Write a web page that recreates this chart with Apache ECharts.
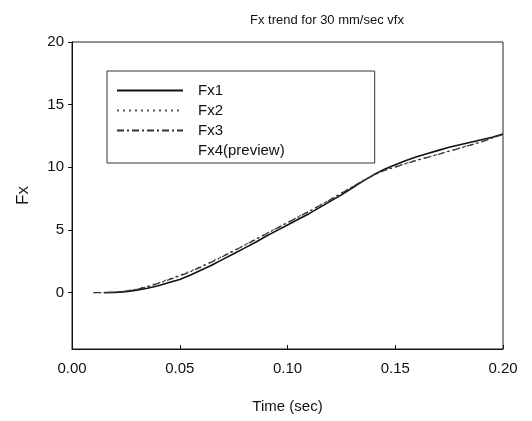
<!DOCTYPE html>
<html>
<head>
<meta charset="utf-8">
<script src="https://cdn.jsdelivr.net/npm/echarts@6/dist/echarts.min.js"></script>
<style>
  html, body { margin: 0; padding: 0; background: #fff; }
  #chart { width: 532px; height: 421px; }
</style>
</head>
<body>
<div id="chart"></div>
<script>
// time samples (sec)
var times = [0.010, 0.015, 0.020, 0.025, 0.030, 0.035, 0.040, 0.045, 0.050, 0.055,
             0.060, 0.065, 0.070, 0.075, 0.080, 0.085, 0.090, 0.095, 0.100, 0.105,
             0.110, 0.115, 0.120, 0.125, 0.130, 0.135, 0.140, 0.145, 0.150, 0.155,
             0.160, 0.165, 0.170, 0.175, 0.180, 0.185, 0.190, 0.195, 0.200];

var fx1 = [0.00, 0.00, 0.02, 0.08, 0.20, 0.35, 0.55, 0.80, 1.05, 1.40,
           1.80, 2.20, 2.65, 3.10, 3.55, 4.00, 4.50, 4.95, 5.40, 5.85,
           6.30, 6.80, 7.30, 7.80, 8.35, 8.90, 9.40, 9.85, 10.20, 10.55,
           10.85, 11.10, 11.35, 11.60, 11.80, 12.00, 12.20, 12.40, 12.65];

var fx2 = [0.00, 0.00, 0.03, 0.12, 0.28, 0.50, 0.78, 1.08, 1.38, 1.72,
           2.10, 2.50, 2.92, 3.35, 3.80, 4.25, 4.70, 5.15, 5.60, 6.05,
           6.50, 6.98, 7.45, 7.95, 8.45, 8.95, 9.40, 9.78, 10.05, 10.32,
           10.58, 10.82, 11.05, 11.30, 11.55, 11.80, 12.05, 12.35, 12.65];

var fx3 = [0.00, 0.00, 0.03, 0.11, 0.26, 0.47, 0.74, 1.03, 1.33, 1.67,
           2.05, 2.45, 2.88, 3.32, 3.77, 4.22, 4.68, 5.13, 5.58, 6.03,
           6.48, 6.95, 7.43, 7.92, 8.42, 8.92, 9.38, 9.75, 10.02, 10.30,
           10.55, 10.80, 11.03, 11.28, 11.52, 11.78, 12.03, 12.33, 12.62];

var xTicks = [0.00, 0.05, 0.10, 0.15, 0.20];
var yTicks = [0, 5, 10, 15, 20];

function pairs(ys, from) {
  var out = [];
  for (var i = from; i < times.length; i++) out.push([times[i], ys[i]]);
  return out;
}

var font = '"Liberation Sans", Arial, sans-serif';
var chart = echarts.init(document.getElementById('chart'));

var option = {
  backgroundColor: '#ffffff',
  animation: false,
  title: {
    text: 'Fx trend for 30 mm/sec vfx',
    left: 322, top: 9, textAlign: 'center',
    textStyle: { fontFamily: font, fontSize: 13, fontWeight: 'normal', color: '#111' }
  },
  grid: { left: 72, top: 42, right: 29, bottom: 72, show: true, borderColor: '#222', borderWidth: 1 },
  legend: {
    orient: 'vertical', left: 107, top: 71,
    padding: [12, 90, 5, 9],
    itemWidth: 66, itemHeight: 14, itemGap: 5,
    borderColor: '#333', borderWidth: 1,
    itemStyle: { opacity: 0 },
    textStyle: { fontFamily: font, fontSize: 15, color: '#111', padding: [0, 0, 0, 10] },
    data: [
      { name: 'Fx1' },
      { name: 'Fx2' },
      { name: 'Fx3' },
      { name: 'Fx4(preview)', lineStyle: { opacity: 0 } }
    ]
  },
  xAxis: {
    type: 'value', min: 0, max: 0.2, interval: 0.05,
    name: 'Time (sec)', nameLocation: 'middle', nameGap: 50,
    nameTextStyle: { fontFamily: font, fontSize: 15, color: '#111' },
    axisLine: { show: true, onZero: false, lineStyle: { color: '#111' } },
    axisTick: { show: true, inside: true, length: 4, lineStyle: { color: '#111' } },
    axisLabel: {
      fontFamily: font, fontSize: 15, color: '#111', margin: 12,
      formatter: function (v) { return xTicks.indexOf(+v.toFixed(2)) >= 0 ? v.toFixed(2) : ''; }
    },
    splitLine: { show: false }
  },
  yAxis: {
    type: 'value', min: -4.5, max: 20, splitNumber: 5,
    name: 'Fx', nameLocation: 'middle', nameGap: 40, nameRotate: 90,
    nameTextStyle: { fontFamily: font, fontSize: 17, color: '#111' },
    axisLine: { show: true, onZero: false, lineStyle: { color: '#111' } },
    axisTick: { show: true, length: 4, lineStyle: { color: '#111' } },
    axisLabel: {
      fontFamily: font, fontSize: 15, color: '#111', margin: 8, showMinLabel: false,
      formatter: function (v) { return yTicks.indexOf(v) >= 0 ? String(v) : ''; }
    },
    splitLine: { show: false }
  },
  series: [
    { name: 'Fx1', type: 'line', data: pairs(fx1, 1), showSymbol: false, symbol: 'none',
      color: '#111', lineStyle: { width: 1.6, color: '#111' } },
    { name: 'Fx2', type: 'line', data: pairs(fx2, 0), showSymbol: false, symbol: 'none',
      color: '#555', lineStyle: { width: 1.2, color: '#555', type: [2, 4] } },
    { name: 'Fx3', type: 'line', data: pairs(fx3, 0), showSymbol: false, symbol: 'none',
      color: '#333', lineStyle: { width: 1.3, color: '#333', type: [7, 3, 2, 3] } },
    { name: 'Fx4(preview)', type: 'line', data: [], showSymbol: false, symbol: 'none',
      color: '#111', lineStyle: { width: 1, color: '#111' } }
  ]
};

chart.setOption(option);
</script>
</body>
</html>
